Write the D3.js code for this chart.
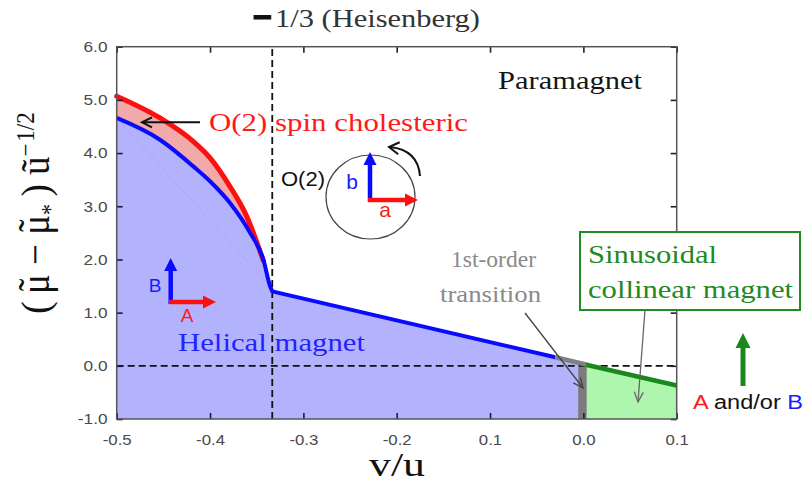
<!DOCTYPE html>
<html><head><meta charset="utf-8">
<script src="https://cdn.jsdelivr.net/npm/d3@7"></script>
<style>body{margin:0;background:#fff}svg{display:block}</style>
</head><body><svg id="c" width="805" height="501"></svg>
<script>
// ---------- data ----------
const xTicks = [-0.5, -0.4, -0.3, -0.2, -0.1, 0.0, 0.1];
const xTickLabels = ["-0.5", "-0.4", "-0.3", "-0.2", "0.1", "0.0", "0.1"];
const yTicks = [-1, 0, 1, 2, 3, 4, 5, 6];
const yTickLabels = ["-1.0", "0.0", "1.0", "2.0", "3.0", "4.0", "5.0", "6.0"];

// O(2) spin cholesteric upper boundary (red)
const cholestericX = [-0.5, -0.4536, -0.418, -0.40, -0.3786, -0.3607, -0.343];
const cholestericY = [5.07, 4.66, 4.22, 3.91, 3.37, 2.81, 1.98];
// helical magnet boundary, curved part (blue)
const helicalCurveX = [-0.5, -0.4536, -0.418, -0.40, -0.3786, -0.3571, -0.3429, -0.3357, -0.3333];
const helicalCurveY = [4.66, 4.25, 3.75, 3.47, 3.06, 2.50, 2.00, 1.50, 1.40];
// helical magnet boundary, straight part (blue)
const helicalLineX = [-0.3333, -0.03];
const helicalLineY = [1.40, 0.16];
// first-order transition segment (gray)
const firstOrderX = [-0.03, 0.004];
const firstOrderY = [0.16, 0.02];
// sinusoidal collinear boundary (green)
const collinearX = [0.003, 0.1];
const collinearY = [0.02, -0.37];
// first-order transition bar at v/u = 0
const transitionBarX = [-0.0055, 0.0035];
const transitionBarY = [-1, 0.06];
// faint inner line
const chordX = [-0.5, -0.339];
const chordY = [4.66, 1.56];
const heisenbergX = -1 / 3;
const zeroY = 0;

// ---------- setup ----------
const svg = d3.select("#c");
const M = {l: 116.7, r: 676.7, t: 46.7, b: 419};
const x = d3.scaleLinear().domain([-0.5, 0.1]).range([M.l, M.r]);
const y = d3.scaleLinear().domain([-1, 6]).range([M.b, M.t]);
const serif = "'Liberation Serif','Times New Roman',Times,serif";
const sans = "'Liberation Sans',Arial,Helvetica,sans-serif";
const pts = (xs, ys) => xs.map((v, i) => [v, ys[i]]);
const lin = d3.line().x(d => x(d[0])).y(d => y(d[1]));
const smooth = d3.line().x(d => x(d[0])).y(d => y(d[1])).curve(d3.curveMonotoneX);
const Lto = arr => arr.map(p => `L${x(p[0])},${y(p[1])}`).join("");

const chol = pts(cholestericX, cholestericY);
const heliC = pts(helicalCurveX, helicalCurveY);
const heliL = pts(helicalLineX, helicalLineY);
const fo = pts(firstOrderX, firstOrderY);
const col = pts(collinearX, collinearY);
const yBot = y.domain()[0], xLeft = x.domain()[0];

// ---------- fills ----------
svg.append("path").attr("fill", "#f2a9a9")
  .attr("d", smooth(chol) + Lto([[chol[chol.length - 1][0], yBot], [xLeft, yBot]]) + "Z");
svg.append("path").attr("fill", "#b3b3fd")
  .attr("d", smooth(heliC) + Lto(heliL.slice(1)) + Lto(fo.slice(1)) +
    Lto([[fo[fo.length - 1][0], yBot], [xLeft, yBot]]) + "Z");
svg.append("path").attr("fill", "#aef5ae")
  .attr("d", lin(col) + Lto([[col[col.length - 1][0], yBot], [col[0][0], yBot]]) + "Z");
svg.append("rect").attr("fill", "#7b7b7b")
  .attr("x", x(transitionBarX[0])).attr("width", x(transitionBarX[1]) - x(transitionBarX[0]))
  .attr("y", y(transitionBarY[1])).attr("height", y(transitionBarY[0]) - y(transitionBarY[1]));
svg.append("path").attr("d", lin(pts(chordX, chordY))).attr("stroke", "#a8a8f6")
  .attr("stroke-width", 1).attr("fill", "none");

// ---------- dashed guides ----------
svg.append("line").attr("x1", x(xLeft)).attr("x2", x(0.1)).attr("y1", y(zeroY)).attr("y2", y(zeroY))
  .attr("stroke", "#111").attr("stroke-width", 1.8).attr("stroke-dasharray", "7,4");
svg.append("line").attr("x1", x(heisenbergX)).attr("x2", x(heisenbergX)).attr("y1", y(-1)).attr("y2", y(6))
  .attr("stroke", "#111").attr("stroke-width", 1.8).attr("stroke-dasharray", "7,4");

// ---------- boundary lines ----------
svg.append("path").attr("d", smooth(chol)).attr("stroke", "#ff1010").attr("stroke-width", 5)
  .attr("fill", "none").attr("stroke-linecap", "round");
svg.append("path").attr("d", smooth(heliC) + Lto(heliL.slice(1))).attr("stroke", "#0a0aff")
  .attr("stroke-width", 4).attr("fill", "none").attr("stroke-linejoin", "round");
svg.append("path").attr("d", lin(fo)).attr("stroke", "#808080").attr("stroke-width", 4.5).attr("fill", "none");
svg.append("path").attr("d", lin(col)).attr("stroke", "#1a881a").attr("stroke-width", 4.5).attr("fill", "none");

// ---------- axes ----------
function styleAxis(g) {
  g.select(".domain").remove();
  g.selectAll(".tick line").attr("stroke", "#1b1b40").attr("stroke-width", 1.6);
  g.selectAll(".tick text").attr("fill", "#4a4a4a").attr("font-family", sans).attr("font-size", 15);
}
svg.append("g").attr("transform", `translate(0,${M.b})`)
  .call(d3.axisBottom(x).tickValues(xTicks).tickFormat((d, i) => xTickLabels[i]).tickSize(-6).tickPadding(15))
  .call(styleAxis).call(g => g.selectAll(".tick text").attr("transform", "scale(1.12,1)"));
svg.append("g").attr("transform", `translate(0,${M.t})`)
  .call(d3.axisTop(x).tickValues(xTicks).tickFormat("").tickSize(-6)).call(styleAxis);
svg.append("g").attr("transform", `translate(${M.l},0)`)
  .call(d3.axisLeft(y).tickValues(yTicks).tickFormat((d, i) => yTickLabels[i]).tickSize(-6).tickPadding(8))
  .call(styleAxis).call(g => g.selectAll(".tick text").attr("transform", "scale(1.15,1)"));
svg.append("g").attr("transform", `translate(${M.r},0)`)
  .call(d3.axisRight(y).tickValues(yTicks).tickFormat("").tickSize(-6)).call(styleAxis);
svg.append("rect").attr("x", M.l).attr("y", M.t).attr("width", M.r - M.l).attr("height", M.b - M.t)
  .attr("fill", "none").attr("stroke", "#555").attr("stroke-width", 1.5);

// ---------- helpers ----------
function label(txt, px, py, o) {
  const t = svg.append("text").attr("x", px).attr("y", py).text(txt)
    .attr("font-family", o.family || serif).attr("font-size", o.size).attr("fill", o.fill || "#000")
    .attr("text-anchor", o.anchor || "start");
  if (o.weight) t.attr("font-weight", o.weight);
  if (o.len) t.attr("textLength", o.len).attr("lengthAdjust", "spacingAndGlyphs");
  return t;
}
function solidArrow(x1, y1, x2, y2, color, w, L, hw) {
  const a = Math.atan2(y2 - y1, x2 - x1), c = Math.cos(a), s = Math.sin(a);
  const bx = x2 - L * c, by = y2 - L * s;
  svg.append("line").attr("x1", x1).attr("y1", y1).attr("x2", bx + c).attr("y2", by + s)
    .attr("stroke", color).attr("stroke-width", w);
  svg.append("path").attr("fill", color)
    .attr("d", `M${x2},${y2}L${bx - hw * s},${by + hw * c}L${bx + hw * s},${by - hw * c}Z`);
}
function openHead(x2, y2, a, color, w, L, hw) {
  const c = Math.cos(a), s = Math.sin(a);
  const bx = x2 - L * c, by = y2 - L * s;
  svg.append("path").attr("fill", "none").attr("stroke", color).attr("stroke-width", w)
    .attr("d", `M${bx - hw * s},${by + hw * c}L${x2},${y2}L${bx + hw * s},${by - hw * c}`);
}
function openArrow(x1, y1, x2, y2, color, w, L, hw) {
  svg.append("line").attr("x1", x1).attr("y1", y1).attr("x2", x2).attr("y2", y2)
    .attr("stroke", color).attr("stroke-width", w);
  openHead(x2, y2, Math.atan2(y2 - y1, x2 - x1), color, w, L, hw);
}

// ---------- annotations ----------
label("\u2212", 253, 27, {size: 30, family: sans, weight: "bold", fill: "#111", len: 19})
  .attr("stroke", "#111").attr("stroke-width", 1.2);
label("1/3 (Heisenberg)", 275, 27, {size: 26, fill: "#333", len: 205});
label("Paramagnet", 498, 89, {size: 25, fill: "#151515", len: 144});
label("O(2) spin cholesteric", 209, 131, {size: 26, fill: "#ff1a1a", len: 259});
label("Helical magnet", 178, 351, {size: 25, fill: "#2323ff", len: 187});
label("1st-order", 451, 267, {size: 24, fill: "#8a8a8a", len: 85});
label("transition", 440, 302, {size: 24, fill: "#8a8a8a", len: 101});
svg.append("rect").attr("x", 580).attr("y", 232).attr("width", 220).attr("height", 78)
  .attr("fill", "#fff").attr("stroke", "#228b22").attr("stroke-width", 2);
label("Sinusoidal", 588, 263, {size: 25, fill: "#1f8a1f", len: 129});
label("collinear magnet", 588, 298, {size: 25, fill: "#1f8a1f", len: 205});

// pointer arrows
openArrow(200, 122.3, 142, 122.3, "#111", 2, 10, 5);
openArrow(525, 313, 583, 388, "#444", 1.3, 10, 4.5);
openArrow(645, 310, 638, 402, "#666", 1.3, 10, 4.5);

// O(2) circle inset
svg.append("ellipse").attr("cx", 370.5).attr("cy", 197).attr("rx", 44.5).attr("ry", 42)
  .attr("fill", "none").attr("stroke", "#444").attr("stroke-width", 1.2);
solidArrow(370, 202, 370, 152, "#0a0aff", 4.5, 13, 6.5);
solidArrow(368, 200, 418, 200, "#ff1010", 4.5, 13, 6.5);
label("O(2)", 281, 186, {size: 21, family: sans, fill: "#111", len: 44});
label("b", 352, 189, {size: 21, family: sans, fill: "#1a1aff", anchor: "middle"});
label("a", 385, 217, {size: 21, family: sans, fill: "#ff1a1a", anchor: "middle"});
svg.append("path").attr("d", "M420,176 Q418,150 390,147").attr("fill", "none")
  .attr("stroke", "#111").attr("stroke-width", 2);
openHead(389, 147, Math.atan2(147 - 149, 389 - 405), "#111", 2, 10, 6);

// A/B arrows in helical region
solidArrow(170.7, 304, 170.7, 258, "#0a0aff", 4.5, 13, 6.5);
solidArrow(169, 302, 216, 302, "#ff1010", 4.5, 13, 6.5);
label("B", 155, 292, {size: 19, family: sans, fill: "#1a1aff", anchor: "middle"});
label("A", 187, 322, {size: 19, family: sans, fill: "#ff1a1a", anchor: "middle"});

// outside green arrow and legend
solidArrow(743, 386, 743, 333, "#1a881a", 5, 15, 7.5);
const ab = label("", 693, 409, {size: 20, family: sans, len: 110});
ab.append("tspan").attr("fill", "#ff1a1a").text("A");
ab.append("tspan").attr("fill", "#111").text(" and/or ");
ab.append("tspan").attr("fill", "#1a1aff").text("B");

// axis titles
label("v/u", 397, 476, {size: 33, fill: "#111", anchor: "middle", len: 56});
// y title: ( mu~ - mu~_* ) u~^(-1/2), tilde placed over mu by hand
const FS = 37;
const muW = FS * 0.576, tW = FS * 0.333;
const yl = svg.append("text").attr("transform", "translate(49,213) rotate(-90) scale(1,1.1)")
  .attr("text-anchor", "middle").attr("font-family", serif).attr("font-size", FS).attr("fill", "#111");
yl.append("tspan").text("(\u2009\u03BC");
yl.append("tspan").attr("dx", -(muW + tW) / 2).attr("dy", -3).text("\u02DC");
yl.append("tspan").attr("dx", (muW - tW) / 2).attr("dy", 3).text(" \u2212 \u03BC");
yl.append("tspan").attr("dx", -(muW + tW) / 2).attr("dy", -3).text("\u02DC");
yl.append("tspan").attr("font-size", 22).attr("dx", (muW - tW) / 2).attr("dy", 12).text("*");
yl.append("tspan").attr("dy", -9).text("\u2009) \u0169");
yl.append("tspan").attr("font-size", 23).attr("dy", -14).text("\u2212\u200A1/2");
</script></body></html>
